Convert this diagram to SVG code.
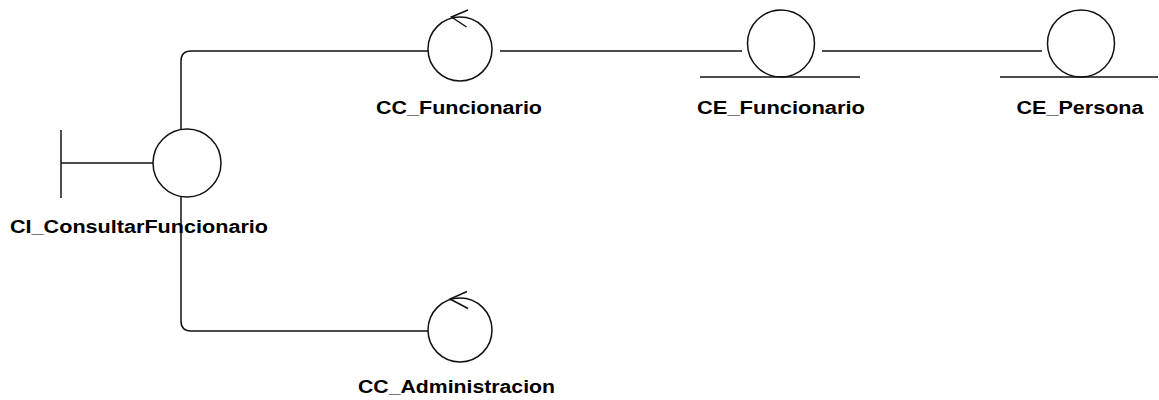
<svg xmlns="http://www.w3.org/2000/svg" width="1159" height="400" viewBox="0 0 1159 400">
  <style>
    .shape { fill: none; stroke: #111; stroke-width: 1.5; }
    .label { font-family: "Liberation Sans", Arial, sans-serif; font-weight: bold; font-size: 18px; fill: #000; text-anchor: middle; }
  </style>
  <rect width="1159" height="400" fill="#fff"/>

  <!-- connectors -->
  <g id="connectors" class="shape">
    <path d="M181 129.5 V61 Q181 51 191 51 H428"/>
    <path d="M181 196.5 V321 Q181 331 191 331 H428"/>
    <line x1="500" y1="51" x2="742" y2="51"/>
    <line x1="822" y1="51" x2="1042" y2="51"/>
  </g>

  <!-- boundary -->
  <g id="CI_ConsultarFuncionario">
    <line class="shape" x1="61" y1="130" x2="61" y2="198"/>
    <line class="shape" x1="61" y1="163" x2="153" y2="163"/>
    <circle class="shape" cx="187" cy="163" r="34"/>
    <text class="label" x="139" y="233" textLength="258" lengthAdjust="spacingAndGlyphs">CI_ConsultarFuncionario</text>
  </g>

  <!-- controls -->
  <g id="CC_Funcionario">
    <circle class="shape" cx="460" cy="49" r="32"/>
    <polyline class="shape" points="468,10 451.5,17 466.5,27"/>
    <text class="label" x="459" y="113.5" textLength="166" lengthAdjust="spacingAndGlyphs">CC_Funcionario</text>
  </g>

  <g id="CC_Administracion">
    <circle class="shape" cx="460" cy="330" r="32"/>
    <polyline class="shape" points="467,291.5 450,299 468,308.5"/>
    <text class="label" x="456.5" y="392.5" textLength="197" lengthAdjust="spacingAndGlyphs">CC_Administracion</text>
  </g>

  <!-- entities -->
  <g id="CE_Funcionario">
    <circle class="shape" cx="781" cy="43.5" r="33.5"/>
    <line class="shape" x1="700" y1="77" x2="860" y2="77"/>
    <text class="label" x="781" y="113.5" textLength="168" lengthAdjust="spacingAndGlyphs">CE_Funcionario</text>
  </g>

  <g id="CE_Persona">
    <circle class="shape" cx="1081" cy="43.5" r="33.5"/>
    <line class="shape" x1="1000" y1="77" x2="1158" y2="77"/>
    <text class="label" x="1080" y="113.5" textLength="127" lengthAdjust="spacingAndGlyphs">CE_Persona</text>
  </g>
</svg>
